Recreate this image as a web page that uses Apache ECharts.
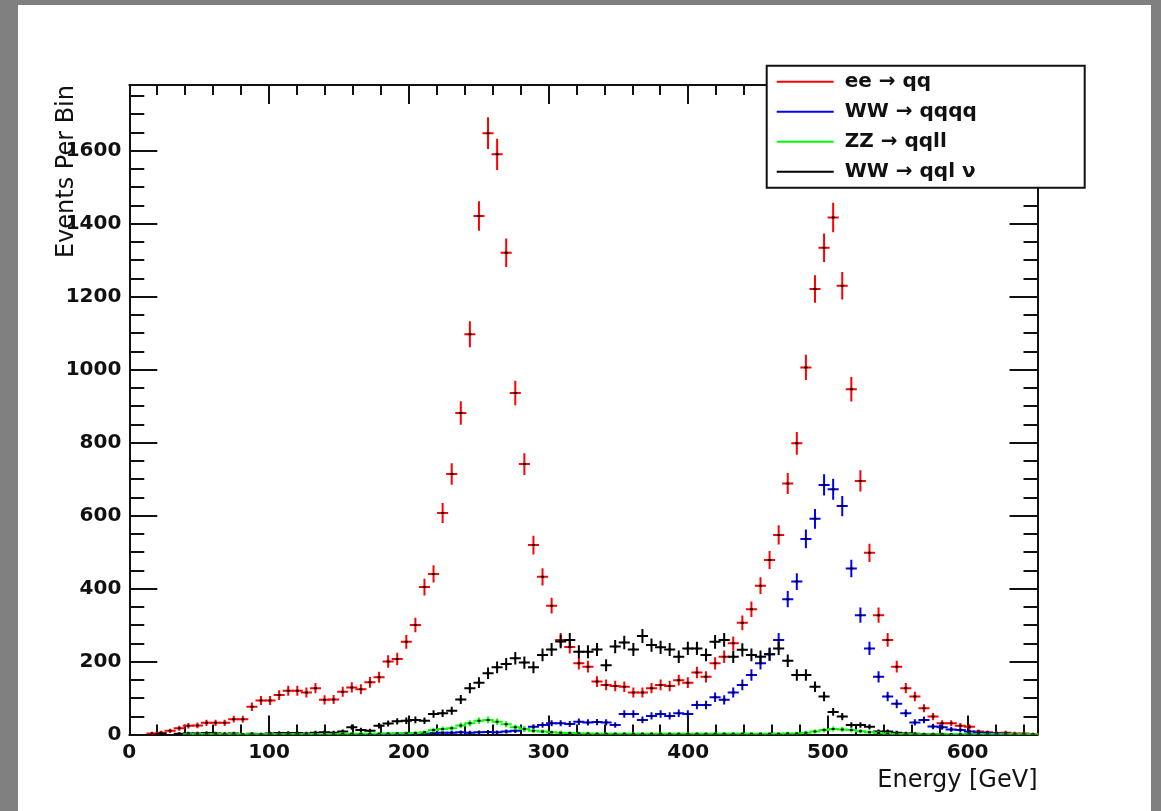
<!DOCTYPE html>
<html><head><meta charset="utf-8">
<script src="https://cdn.jsdelivr.net/npm/echarts@6/dist/echarts.min.js"></script>
<style>
html,body{margin:0;padding:0;width:1161px;height:811px;background:#808080;overflow:hidden;}
#chart{position:absolute;left:18px;top:5px;width:1133px;height:806px;background:#ffffff;}
</style></head><body><div id="chart"></div>
<script>
// Histogram binning: 100 bins of 6.5 GeV from 0 to 650 GeV
const BIN_WIDTH = 6.5;
const X_MIN = 0, X_MAX = 650;
const Y_MIN = 0, Y_MAX = 1780;
const X_MAJOR = 100, X_MINOR = 20;
const Y_MAJOR = 200, Y_MINOR = 50;

const seriesNames = ['ee \u2192 qq', 'WW \u2192 qqqq', 'ZZ \u2192 qqll', 'WW \u2192 qql \u03bd'];
const seriesColors = ['#ff0000', '#0000ff', '#00ff00', '#000000'];

// Events per bin
const eeQQ = [
  0, 0, 3, 5, 10, 17, 24, 25, 32, 32,
  32, 42, 42, 76, 93, 93, 108, 120, 120, 115,
  127, 95, 96, 117, 129, 124, 143, 157, 200, 207,
  254, 300, 404, 440, 607, 714, 881, 1097, 1421, 1648,
  1590, 1320, 936, 741, 519, 432, 353, 259, 240, 195,
  186, 145, 136, 133, 131, 115, 115, 127, 136, 133,
  149, 142, 170, 158, 195, 213, 250, 306, 343, 408,
  478, 547, 688, 798, 1006, 1221, 1334, 1417, 1230, 946,
  695, 498, 327, 259, 186, 127, 104, 72, 49, 31,
  31, 24, 21, 8, 6, 4, 5, 3, 3, 1
];
const wwQQQQ = [
  0, 0, 0, 0, 0, 0, 0, 0, 0, 0,
  0, 0, 0, 0, 0, 0, 0, 0, 0, 0,
  0, 0, 0, 0, 0, 0, 1, 1, 2, 2,
  3, 3, 4, 4, 5, 5, 6, 5, 6, 7,
  6, 8, 10, 15, 21, 26, 31, 31, 29, 35,
  33, 34, 33, 26, 56, 56, 40, 51, 56, 51,
  58, 56, 81, 81, 102, 95, 115, 136, 163, 195,
  220, 259, 371, 419, 536, 591, 684, 672, 626, 455,
  327, 236, 158, 104, 84, 58, 33, 40, 22, 20,
  14, 12, 8, 5, 4, 3, 2, 1, 1, 0
];
const zzQQLL = [
  0, 0, 0, 0, 0, 0, 1, 1, 1, 1,
  1, 1, 1, 1, 1, 1, 1, 1, 1, 1,
  1, 1, 1, 2, 2, 2, 2, 2, 2, 3,
  3, 4, 6, 12, 15, 17, 25, 31, 38, 40,
  35, 28, 20, 15, 10, 8, 6, 5, 4, 3,
  3, 2, 2, 2, 2, 2, 2, 2, 2, 2,
  2, 2, 2, 2, 2, 2, 2, 2, 2, 2,
  2, 2, 3, 3, 5, 8, 12, 15, 14, 12,
  9, 6, 4, 2, 1, 1, 1, 1, 1, 1,
  1, 1, 1, 1, 1, 1, 1, 1, 1, 1
];
const wwQQLNu = [
  0, 0, 0, 2, 0, 2, 3, 3, 4, 3,
  2, 3, 0, 2, 1, 3, 4, 4, 4, 3,
  5, 6, 5, 8, 20, 12, 10, 24, 30, 36,
  38, 40, 38, 56, 58, 65, 96, 127, 142, 168,
  184, 193, 209, 197, 184, 218, 233, 255, 259, 227,
  227, 233, 190, 241, 252, 233, 270, 245, 239, 233,
  213, 236, 236, 218, 254, 259, 213, 232, 218, 213,
  220, 236, 202, 163, 163, 131, 104, 62, 49, 26,
  26, 21, 8, 8, 5, 3, 2, 1, 1, 1,
  0, 0, 1, 0, 0, 0, 0, 0, 0, 0
];
const seriesValues = [eeQQ, wwQQQQ, zzQQLL, wwQQLNu];

const FONT = 'DejaVu Sans';
const INK = '#111111';

function binCenter(i) { return X_MIN + BIN_WIDTH * (i + 0.5); }

function toData(values) {
  return values.map((v, i) => [binCenter(i), v, Math.sqrt(v)]);
}

function renderErr(params, api) {
  const x = api.value(0), y = api.value(1), e = api.value(2);
  if (!(y > 0)) return null;
  const l = api.coord([x - BIN_WIDTH / 2, y]);
  const r = api.coord([x + BIN_WIDTH / 2, y]);
  const t = api.coord([x, Math.min(Y_MAX, y + e)]);
  const b = api.coord([x, Math.max(0, y - e)]);
  const c = api.visual('color');
  const cx = (l[0] + r[0]) / 2;
  return {
    type: 'group',
    children: [
      { type: 'line', shape: { x1: l[0], y1: l[1], x2: r[0], y2: r[1] }, style: { stroke: c, lineWidth: 2, lineCap: 'square' } },
      { type: 'line', shape: { x1: cx, y1: t[1], x2: cx, y2: b[1] }, style: { stroke: c, lineWidth: 2, lineCap: 'square' } },
      { type: 'rect', shape: { x: cx - 1.5, y: l[1] - 1, width: 3, height: 2 }, style: { fill: '#000' } }
    ]
  };
}

const labelStyle = { fontFamily: FONT, fontSize: 20, fontWeight: 'bold', color: INK };

function xAxisDef(pos, interval, tickLen, major) {
  return {
    type: 'value', position: pos, min: X_MIN, max: X_MAX, interval: interval, gridIndex: 0,
    axisLine: { show: major, onZero: false, lineStyle: { color: INK, width: 2 } },
    axisTick: { show: true, inside: true, length: tickLen, lineStyle: { color: INK, width: 2 } },
    splitLine: { show: false },
    axisLabel: Object.assign({
      show: major && pos === 'bottom', showMaxLabel: false, margin: 8, formatter: v => String(v)
    }, labelStyle)
  };
}
function yAxisDef(pos, interval, tickLen, major) {
  return {
    type: 'value', position: pos, min: Y_MIN, max: Y_MAX, interval: interval, gridIndex: 0,
    axisLine: { show: major, onZero: false, lineStyle: { color: INK, width: 2 } },
    axisTick: { show: true, inside: true, length: tickLen, lineStyle: { color: INK, width: 2 } },
    splitLine: { show: false },
    axisLabel: Object.assign({
      show: major && pos === 'left', showMaxLabel: false, margin: 8, formatter: v => String(v)
    }, labelStyle)
  };
}

const chart = echarts.init(document.getElementById('chart'), null, { renderer: 'canvas' });

const drawOrder = [0, 1, 3, 2];
const series = drawOrder.map((k, idx) => ({
  name: seriesNames[k],
  type: 'custom',
  xAxisIndex: 0, yAxisIndex: 0,
  renderItem: renderErr,
  encode: { x: 0, y: 1 },
  data: toData(seriesValues[k]),
  itemStyle: { color: seriesColors[k] },
  color: seriesColors[k],
  z: 2 + idx,
  clip: true,
  silent: true
}));

chart.setOption({
  animation: false,
  grid: { left: 111.3, top: 80, right: 113.5, bottom: 76.5, containLabel: false },
  xAxis: [
    xAxisDef('bottom', X_MAJOR, 19, true),
    xAxisDef('bottom', X_MINOR, 10, false),
    xAxisDef('top', X_MAJOR, 19, true),
    xAxisDef('top', X_MINOR, 10, false)
  ],
  yAxis: [
    yAxisDef('left', Y_MAJOR, 28, true),
    yAxisDef('left', Y_MINOR, 15, false),
    yAxisDef('right', Y_MAJOR, 28, true),
    yAxisDef('right', Y_MINOR, 14, false)
  ],
  legend: {
    data: seriesNames,
    orient: 'vertical',
    left: 748.7, top: 60.7,
    padding: [6, 6, 6, 10],
    itemGap: 10,
    itemWidth: 57, itemHeight: 2,
    icon: 'rect',
    selectedMode: false,
    backgroundColor: '#ffffff',
    borderColor: INK, borderWidth: 2,
    z: 10,
    textStyle: { fontFamily: FONT, fontSize: 20, fontWeight: 'bold', color: INK, width: 234, lineHeight: 20, padding: [0, 0, 0, 6] }
  },
  graphic: [
    { type: 'text', right: 1133 - 1019.5, top: 764, z: 10,
      style: { text: 'Energy [GeV]', fontFamily: FONT, fontSize: 24, fill: INK } },
    { type: 'text', x: 49, y: 80, rotation: Math.PI / 2, z: 10,
      style: { text: 'Events Per Bin', fontFamily: FONT, fontSize: 24, fill: INK, align: 'right', verticalAlign: 'middle' } }
  ],
  series: series
});
</script></body></html>
